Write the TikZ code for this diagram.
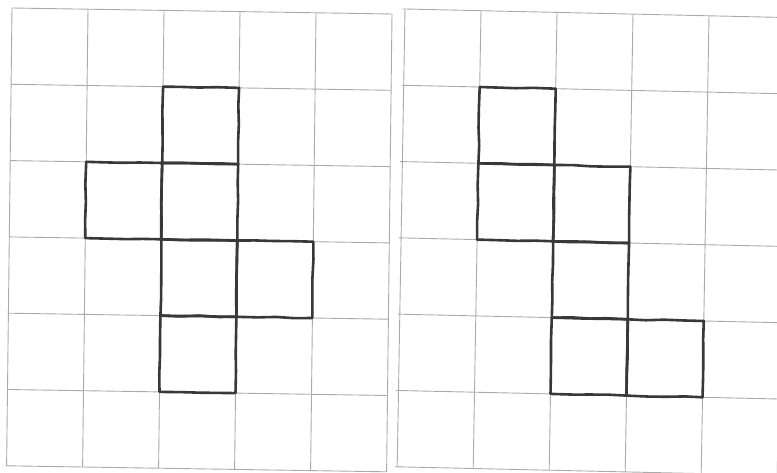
\documentclass[tikz,border=0pt]{standalone}
\usepackage{tikz}
\usetikzlibrary{decorations.pathmorphing}
\definecolor{raster}{HTML}{ABABAB}
\definecolor{stift}{HTML}{383838}

\begin{document}
\begin{tikzpicture}[
        gridline/.style={raster, line width=0.9pt},
        netline/.style={stift, line width=2.6pt, line join=round, line cap=round,
          decorate, decoration={random steps, segment length=18pt, amplitude=0.6pt}},
      ]
      \useasboundingbox (0,0) rectangle (777pt,-473pt);
      \clip (0,0) rectangle (777pt,-473pt);

      % linkes Raster, leicht schief
      \begin{scope}[shift={(12pt,-8pt)}, x={(76pt,-1.2pt)}, y={(-0.9pt,-76.3pt)}]
        \foreach \i in {0,...,5} \draw[gridline] (\i,0) -- (\i,6);
        \foreach \j in {0,...,6} \draw[gridline] (0,\j) -- (5,\j);
        % Netz A
        \foreach \i/\j in {2/1, 1/2, 2/2, 2/3, 3/3, 2/4}
          \draw[netline] (\i,\j) -- (\i+1,\j) -- (\i+1,\j+1) -- (\i,\j+1) -- cycle;
      \end{scope}

      % rechtes Raster
      \begin{scope}[shift={(405pt,-9pt)}, x={(76pt,-1.7pt)}, y={(-1.3pt,-76.3pt)}]
        \foreach \i in {0,...,5} \draw[gridline] (\i,0) -- (\i,6);
        \foreach \j in {0,...,6} \draw[gridline] (-0.03,\j) -- (5,\j);
        % Netz B
        \foreach \i/\j in {1/1, 1/2, 2/2, 2/3, 2/4, 3/4}
          \draw[netline] (\i,\j) -- (\i+1,\j) -- (\i+1,\j+1) -- (\i,\j+1) -- cycle;
      \end{scope}
    \end{tikzpicture}
\end{document}
